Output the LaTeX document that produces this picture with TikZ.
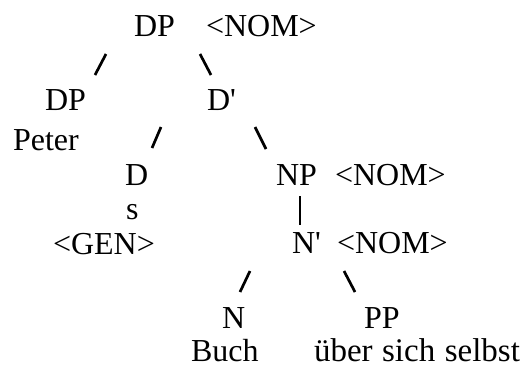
\documentclass[tikz,border=0pt]{standalone}
\usepackage{fontspec}
\setmainfont{Liberation Serif}
\begin{document}
\begin{tikzpicture}[x=1pt,y=-1pt,
  lab/.style={anchor=base west,inner sep=0pt,outer sep=0pt,font=\fontsize{32}{38}\selectfont},
  slash/.style={line width=2.7pt,line cap=butt},
  bar/.style={line width=1.1pt}]
\useasboundingbox (0,0) rectangle (529,365);
% labels
\node[lab] (dp0) at (134,36) {DP};
\node[lab] (nom0) at (206,36) {<NOM>};
\node[lab] (dp1) at (45,110) {DP};
\node[lab] (dbar) at (207,110) {D\textquotesingle};
\node[lab] (peter) at (13,150) {Peter};
\node[lab] (d) at (125,185) {D};
\node[lab] (np) at (276,185) {NP};
\node[lab] (nom1) at (335,185) {<NOM>};
\node[lab] (s) at (126,219) {s};
\node[lab] (gen) at (53,254) {<GEN>};
\node[lab] (nbar) at (292,253) {N\textquotesingle};
\node[lab] (nom2) at (337,253) {<NOM>};
\node[lab] (n) at (222,328) {N};
\node[lab] (pp) at (364,328) {PP};
\node[lab] (buch) at (191,361) {Buch};
\node[lab,font=\fontsize{33}{38}\selectfont] (ueber) at (314,361) {über\hspace{9.5pt}sich\hspace{9.5pt}selbst};
% connector ends
\coordinate (a1) at (106,54); \coordinate (b1) at (95,75);
\coordinate (a2) at (200,54); \coordinate (b2) at (211,75);
\coordinate (a3) at (161,127); \coordinate (b3) at (152,148);
\coordinate (a4) at (255,127); \coordinate (b4) at (266,149);
\coordinate (a5) at (250,271); \coordinate (b5) at (240,292);
\coordinate (a6) at (344,271); \coordinate (b6) at (355,292);
\coordinate (a7) at (300,196); \coordinate (b7) at (300,225);
\draw[slash] (a1) -- (b1);
\draw[slash] (a2) -- (b2);
\draw[slash] (a3) -- (b3);
\draw[slash] (a4) -- (b4);
\draw[slash] (a5) -- (b5);
\draw[slash] (a6) -- (b6);
\draw[bar] (a7) -- (b7);
\end{tikzpicture}
\end{document}
